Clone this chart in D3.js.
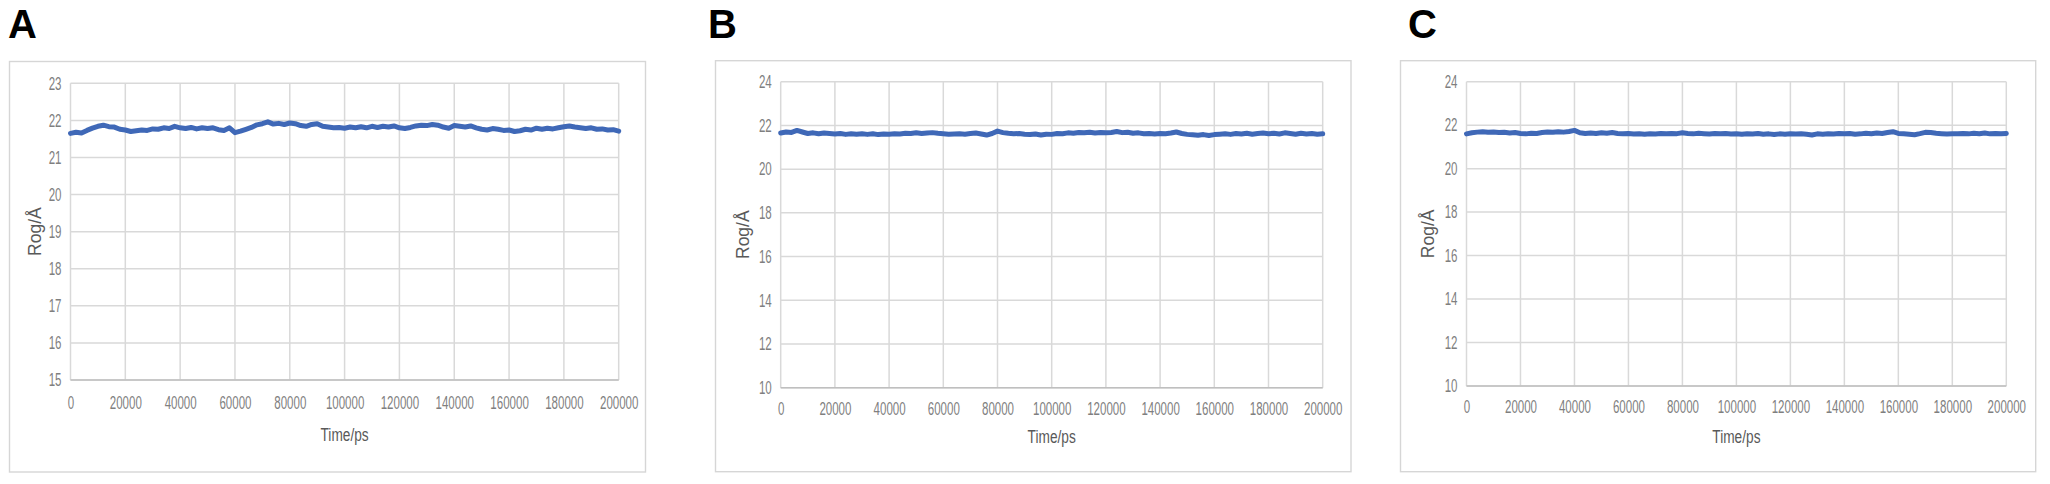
<!DOCTYPE html>
<html><head><meta charset="utf-8">
<script src="https://cdn.jsdelivr.net/npm/d3@7"></script>
<style>body{margin:0;background:#fff}svg{display:block}</style>
</head><body>
<svg id="c" width="2050" height="484"></svg>
<script>
// ---------------- data ----------------
const panelLabels = ["A", "B", "C"];
const xTitle = "Time/ps";
const yTitle = "Rog/Å";
const xTickValues = [0, 20000, 40000, 60000, 80000, 100000, 120000, 140000, 160000, 180000, 200000];
const yTicksA = [15, 16, 17, 18, 19, 20, 21, 22, 23];
const yTicksB = [10, 12, 14, 16, 18, 20, 22, 24];
const yTicksC = [10, 12, 14, 16, 18, 20, 22, 24];
const timeStepPs = 2000; // sampling interval of the series below (0 … 200000 ps)

const rogA = [21.65,21.68,21.66,21.73,21.79,21.84,21.87,21.83,21.82,21.76,21.74,21.70,21.72,21.74,21.73,21.77,21.76,21.80,21.78,21.84,
21.80,21.78,21.81,21.77,21.80,21.78,21.80,21.75,21.73,21.80,21.67,21.71,21.76,21.81,21.88,21.91,21.96,21.90,21.92,21.89,
21.93,21.91,21.86,21.84,21.89,21.91,21.84,21.82,21.80,21.81,21.79,21.82,21.80,21.83,21.80,21.84,21.81,21.84,21.82,21.85,
21.80,21.78,21.81,21.85,21.87,21.86,21.89,21.87,21.82,21.79,21.86,21.84,21.82,21.85,21.80,21.76,21.74,21.78,21.76,21.73,
21.74,21.70,21.72,21.76,21.74,21.79,21.76,21.79,21.77,21.80,21.83,21.85,21.82,21.80,21.78,21.80,21.76,21.77,21.74,21.75,21.71];

const rogB = [21.65,21.70,21.68,21.77,21.70,21.63,21.66,21.62,21.65,21.63,21.61,21.63,21.59,21.62,21.60,21.62,21.59,21.62,21.58,21.61,
21.60,21.62,21.61,21.64,21.63,21.66,21.63,21.65,21.67,21.64,21.62,21.60,21.61,21.62,21.60,21.63,21.65,21.61,21.56,21.63,
21.74,21.67,21.64,21.62,21.63,21.60,21.58,21.61,21.56,21.60,21.59,21.63,21.62,21.66,21.64,21.68,21.66,21.69,21.65,21.68,
21.66,21.68,21.72,21.67,21.69,21.64,21.66,21.62,21.63,21.61,21.63,21.62,21.65,21.70,21.63,21.59,21.57,21.55,21.58,21.54,
21.58,21.60,21.62,21.59,21.63,21.61,21.64,21.60,21.63,21.65,21.62,21.64,21.61,21.66,21.63,21.60,21.64,21.61,21.63,21.60,21.62];

const rogC = [21.60,21.65,21.68,21.70,21.67,21.69,21.66,21.67,21.64,21.66,21.62,21.60,21.63,21.62,21.66,21.69,21.67,21.70,21.68,21.71,
21.76,21.65,21.62,21.64,21.62,21.65,21.63,21.66,21.62,21.60,21.62,21.59,21.61,21.58,21.60,21.59,21.62,21.60,21.62,21.61,
21.65,21.62,21.60,21.63,21.61,21.59,21.62,21.60,21.62,21.59,21.61,21.58,21.61,21.59,21.62,21.58,21.60,21.57,21.60,21.58,
21.61,21.59,21.60,21.58,21.55,21.60,21.58,21.61,21.59,21.62,21.60,21.62,21.58,21.60,21.63,21.61,21.64,21.62,21.66,21.70,
21.62,21.60,21.58,21.56,21.61,21.67,21.66,21.63,21.61,21.59,21.61,21.60,21.62,21.60,21.63,21.61,21.64,21.60,21.62,21.60,21.62];

// ---------------- layout ----------------
const layout = [
  { frame: [9.5, 61.5, 645.5, 472], plot: [70.5, 83.3, 618.7, 380], letterX: 8, xlabY: 23, titleY: 55, yTitleX: 35.5 },
  { frame: [715.5, 60.7, 1351, 471.7], plot: [780.7, 81.7, 1322.7, 387.7], letterX: 708, xlabY: 21, titleY: 49, yTitleX: 37.5 },
  { frame: [1400.5, 60.7, 2035.7, 471.7], plot: [1466.5, 81.7, 2006.3, 386], letterX: 1408, xlabY: 21, titleY: 50.7, yTitleX: 38.5 }
];
const series = [rogA, rogB, rogC];
const yTickSets = [yTicksA, yTicksB, yTicksC];
const labelSqueeze = 0.64;   // the source uses a condensed font
const titleSqueeze = 0.74;

const svg = d3.select("#c");
svg.append("rect").attr("width", 2050).attr("height", 484).attr("fill", "#ffffff");

const narrowFont = "'Liberation Sans', Arial, sans-serif";

series.forEach((vals, i) => {
  const L = layout[i];
  const [fx0, fy0, fx1, fy1] = L.frame;
  const [px0, py0, px1, py1] = L.plot;
  const yTicks = yTickSets[i];
  const g = svg.append("g");

  // chart-area frame
  g.append("rect").attr("x", fx0).attr("y", fy0).attr("width", fx1 - fx0).attr("height", fy1 - fy0)
    .attr("fill", "#ffffff").attr("stroke", "#d6d6d6").attr("stroke-width", 1.4);

  // panel letter
  svg.append("text").attr("x", L.letterX).attr("y", 38).text(panelLabels[i])
    .attr("font-family", "'Liberation Sans', Arial, sans-serif").attr("font-weight", "bold")
    .attr("font-size", 40).attr("fill", "#000");

  const x = d3.scaleLinear().domain([xTickValues[0], xTickValues[xTickValues.length - 1]]).range([px0, px1]);
  const y = d3.scaleLinear().domain([yTicks[0], yTicks[yTicks.length - 1]]).range([py1, py0]);

  // gridlines
  g.append("g").selectAll("line").data(yTicks).join("line")
    .attr("x1", px0).attr("x2", px1).attr("y1", d => y(d)).attr("y2", d => y(d))
    .attr("stroke", "#d9d9d9").attr("stroke-width", 1.5);
  g.append("g").selectAll("line").data(xTickValues).join("line")
    .attr("x1", d => x(d)).attr("x2", d => x(d)).attr("y1", py0).attr("y2", py1)
    .attr("stroke", "#d9d9d9").attr("stroke-width", 1.5);
  // bottom axis line
  g.append("line").attr("x1", px0).attr("x2", px1).attr("y1", y(yTicks[0])).attr("y2", y(yTicks[0]))
    .attr("stroke", "#bfbfbf").attr("stroke-width", 1.5);

  // x axis labels
  const xAxis = g.append("g").attr("transform", `translate(0,${py1})`)
    .call(d3.axisBottom(x).tickValues(xTickValues).tickFormat(d3.format("d")).tickSize(0));
  xAxis.select(".domain").remove();
  xAxis.selectAll("text").attr("font-family", narrowFont).attr("font-size", 18).attr("fill", "#7f7f7f")
    .attr("y", L.xlabY).attr("dy", "0.36em").attr("x", 0)
    .attr("transform", `scale(${labelSqueeze},1)`);

  // y axis labels
  const yAxis = g.append("g").attr("transform", `translate(${px0},0)`)
    .call(d3.axisLeft(y).tickValues(yTicks).tickFormat(d3.format("d")).tickSize(0));
  yAxis.select(".domain").remove();
  yAxis.selectAll("text").attr("font-family", narrowFont).attr("font-size", 18).attr("fill", "#7f7f7f")
    .attr("x", -9 / labelSqueeze).attr("transform", `scale(${labelSqueeze},1)`);

  // axis titles
  const cx = (px0 + px1) / 2;
  g.append("text").attr("transform", `translate(${cx},${py1 + L.titleY}) scale(${titleSqueeze},1)`)
    .attr("dy", "0.35em").attr("text-anchor", "middle").attr("font-family", narrowFont).attr("font-size", 18.5)
    .attr("fill", "#595959").text(xTitle);
  g.append("text").attr("transform", `translate(${px0 - L.yTitleX},${(py0 + py1) / 2}) rotate(-90)`)
    .attr("dy", "0.35em").attr("text-anchor", "middle").attr("font-family", narrowFont)
    .attr("font-size", 17.5).attr("fill", "#595959").text(yTitle);

  // data line
  const line = d3.line().x((d, k) => x(k * timeStepPs)).y(d => y(d));
  g.append("path").datum(vals).attr("d", line).attr("fill", "none")
    .attr("stroke", "#3f68b7").attr("stroke-width", 5).attr("stroke-linejoin", "round").attr("stroke-linecap", "round");
});
</script>
</body></html>
